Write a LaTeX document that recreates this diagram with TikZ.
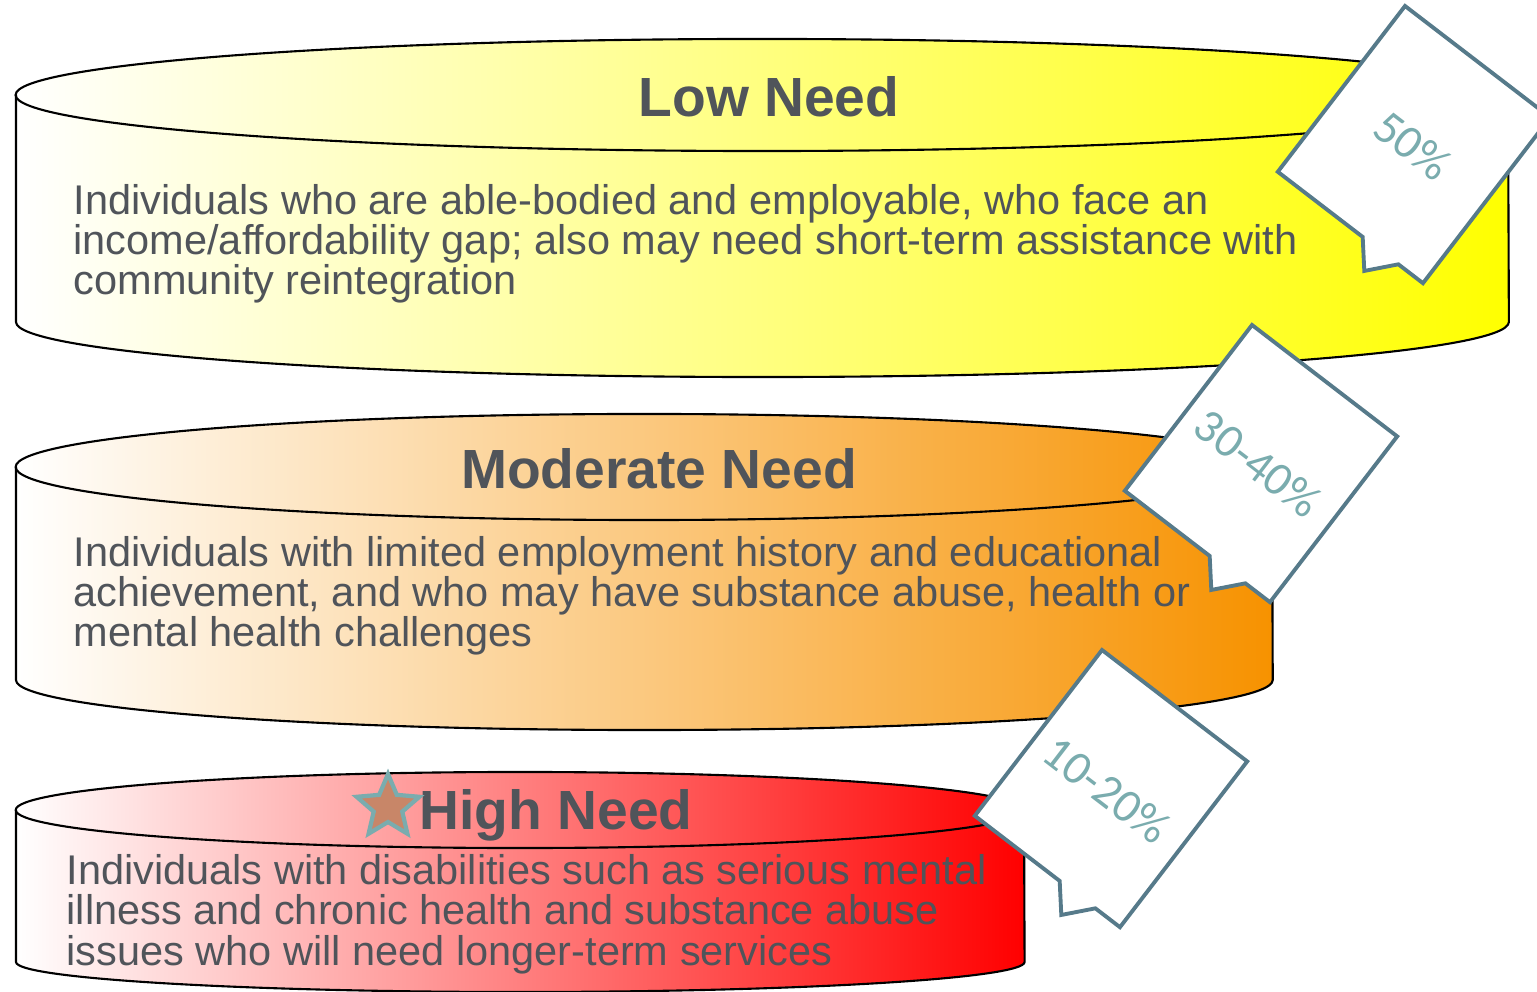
\documentclass[tikz,border=0pt]{standalone}
\usepackage{fontspec}
\setmainfont{Liberation Sans}
\newfontfamily\tagfont{Carlito}
\usetikzlibrary{shapes.geometric}
\definecolor{needtext}{RGB}{80,84,90}
\definecolor{lowyellow}{RGB}{255,255,0}
\definecolor{modorange}{RGB}{247,146,0}
\definecolor{highred}{RGB}{255,0,0}
\definecolor{tagline}{RGB}{86,122,138}
\definecolor{tagcolor}{RGB}{122,172,174}
\definecolor{starfill}{RGB}{200,134,104}
\tikzset{
  rim/.style={draw=black,line width=0.6pt},
  lowshade/.style={left color=white,middle color=lowyellow!30,right color=lowyellow},
  modshade/.style={left color=white,middle color=modorange!40,right color=modorange},
  highshade/.style={left color=white,middle color=highred!38,right color=highred},
  title/.style={anchor=base,text=needtext,font=\fontsize{15.7}{18}\selectfont\bfseries},
  body/.style={anchor=base west,align=left,inner sep=0pt,text=needtext,
    font=\fontsize{11.8}{11.4}\selectfont},
  tag/.style={draw=tagline,fill=white,line width=1.1pt,line join=miter},
  tagtext/.style={text=tagcolor,font=\tagfont\fontsize{13.5}{15}\selectfont,rotate=-37.5}
}
\begin{document}
\begin{tikzpicture}[x=0.01cm,y=-0.01cm]
  \useasboundingbox (0,0) rectangle (1537,992);

  % low need
  \path[lowshade] (16,95) -- (16,322) arc[start angle=180,end angle=360,x radius=7.46cm,y radius=0.55cm]
    -- (1508,95) arc[start angle=0,end angle=180,x radius=7.46cm,y radius=0.56cm] -- cycle;
  \draw[rim] (16,95) -- (16,322) arc[start angle=180,end angle=360,x radius=7.46cm,y radius=0.55cm] -- (1508,95);
  \draw[rim] (762,95) ellipse[x radius=7.46cm,y radius=0.56cm];

  % moderate need
  \path[modshade] (16,467) -- (16,680) arc[start angle=180,end angle=360,x radius=6.28cm,y radius=0.50cm]
    -- (1272,467) arc[start angle=0,end angle=180,x radius=6.28cm,y radius=0.53cm] -- cycle;
  \draw[rim] (16,467) -- (16,680) arc[start angle=180,end angle=360,x radius=6.28cm,y radius=0.50cm] -- (1272,467);
  \draw[rim] (644,467) ellipse[x radius=6.28cm,y radius=0.53cm];

  % high need
  \path[highshade] (16,810) -- (16,962) arc[start angle=180,end angle=360,x radius=5.04cm,y radius=0.30cm]
    -- (1024,810) arc[start angle=0,end angle=180,x radius=5.04cm,y radius=0.38cm] -- cycle;
  \draw[rim] (16,810) -- (16,962) arc[start angle=180,end angle=360,x radius=5.04cm,y radius=0.30cm] -- (1024,810);
  \draw[rim] (520,810) ellipse[x radius=5.04cm,y radius=0.38cm];

  \node[title] (low) at (769,117) {Low Need};
  \node[title] (moderate) at (659,489) {Moderate Need};
  \node[title] (high) at (556,829) {High Need};
  \node[star,star points=5,star point ratio=2.2,minimum size=0.66cm,inner sep=0pt,
    fill=starfill,draw=tagcolor,line width=1.2pt] (star) at (388,807) {};

  \node[body] (lowtext) at (73,295) {Individuals who are able-bodied and employable, who face an\\
    income/affordability gap; also may need short-term assistance with\\
    community reintegration};
  \node[body] (modtext) at (73,647) {Individuals with limited employment history and educational\\
    achievement, and who may have substance abuse, health or\\
    mental health challenges};
  \node[body] (hightext) at (66,965) {Individuals with disabilities such as serious mental\\
    illness and chronic health and substance abuse\\
    issues who will need longer-term services};

  % percentage tags
  \begin{scope}[shift={(1405,6)},rotate=-37.5]
    \draw[tag] (0,0) -- (183,0) -- (183,209) -- (152,209) -- (129,235) -- (107,209) -- (0,209) -- cycle;
    \node[tagtext] (p50) at (91,106) {50\%};
  \end{scope}
  \begin{scope}[shift={(1252,325)},rotate=-37.5]
    \draw[tag] (0,0) -- (183,0) -- (183,209) -- (152,209) -- (129,235) -- (107,209) -- (0,209) -- cycle;
    \node[tagtext] (p30) at (89,106) {30-40\%};
  \end{scope}
  \begin{scope}[shift={(1102,650)},rotate=-37.5]
    \draw[tag] (0,0) -- (183,0) -- (183,209) -- (152,209) -- (129,235) -- (107,209) -- (0,209) -- cycle;
    \node[tagtext] (p10) at (89,108) {10-20\%};
  \end{scope}
\end{tikzpicture}
\end{document}
